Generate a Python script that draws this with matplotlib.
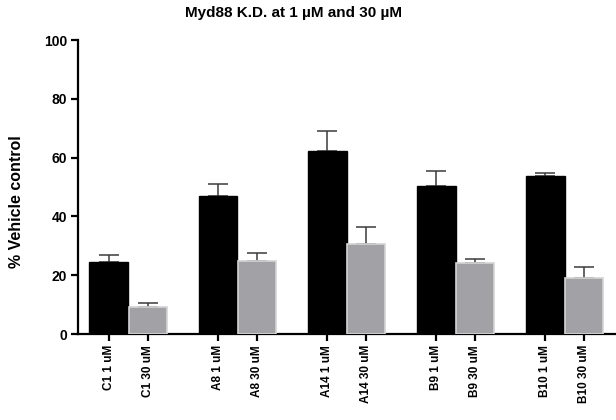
import matplotlib
matplotlib.use("Agg")
import matplotlib.pyplot as plt
import numpy as np

plt.rcParams['font.family'] = ['Liberation Sans', 'DejaVu Sans']

compounds = ["C1", "A8", "A14", "B9", "B10"]
vals_1uM = [24.5, 46.8, 62.2, 50.4, 53.7]
err_1uM = [2.4, 4.1, 6.8, 4.9, 1.1]
vals_30uM = [9.2, 24.8, 30.5, 24.3, 19.1]
err_30uM = [1.2, 2.7, 5.8, 1.1, 3.7]
tick_labels = []
for c in compounds:
    tick_labels += [f"{c} 1 uM", f"{c} 30 uM"]
title = "Myd88 K.D. at 1 \u00b5M and 30 \u00b5M"
ylabel = "% Vehicle control"

fig = plt.figure(figsize=(6.16, 4.2), dpi=100)
ax = fig.add_axes([78/616, 1-334/420, 1-78/616, 294/420])

group_step = 2.8
x1 = np.arange(len(compounds)) * group_step
x30 = x1 + 1.0

ax.bar(x1, vals_1uM, width=1.0, color="black", edgecolor="black", linewidth=1, zorder=3)
ax.bar(x30, vals_30uM, width=0.97, color="#a2a2a6", edgecolor="#d4d4d4", linewidth=1.2, zorder=3)
ax.errorbar(x1, vals_1uM, yerr=[np.zeros(5), err_1uM], fmt="none", ecolor="#3a3a3a",
            elinewidth=1.1, capsize=7, capthick=1.1, zorder=2)
ax.errorbar(x30, vals_30uM, yerr=[np.zeros(5), err_30uM], fmt="none", ecolor="#3a3a3a",
            elinewidth=1.1, capsize=7, capthick=1.1, zorder=2)

ax.set_ylim(0, 100)
ax.set_xlim(-0.795, x30[-1] + 0.82)
ax.set_yticks([0, 20, 40, 60, 80, 100])
xt = np.ravel(np.column_stack([x1, x30]))
ax.set_xticks(xt)
ax.set_xticklabels(tick_labels, rotation=90, fontweight="bold", fontsize=8.5)
for lab in ax.get_yticklabels():
    lab.set_fontweight("bold")
    lab.set_fontsize(10)

for s in ["top", "right"]:
    ax.spines[s].set_visible(False)
for s in ["left", "bottom"]:
    ax.spines[s].set_linewidth(1.6)
ax.tick_params(axis="both", width=1.6, length=5, direction="out", pad=3)

ax.set_ylabel(ylabel, fontweight="bold", fontsize=11.5)
ax.yaxis.set_label_coords(-0.1, 0.45)

fig.text(293.5/616, 1-13/420, title, ha="center", va="center", fontweight="bold", fontsize=11)

fig.savefig("out.png", dpi=100)
